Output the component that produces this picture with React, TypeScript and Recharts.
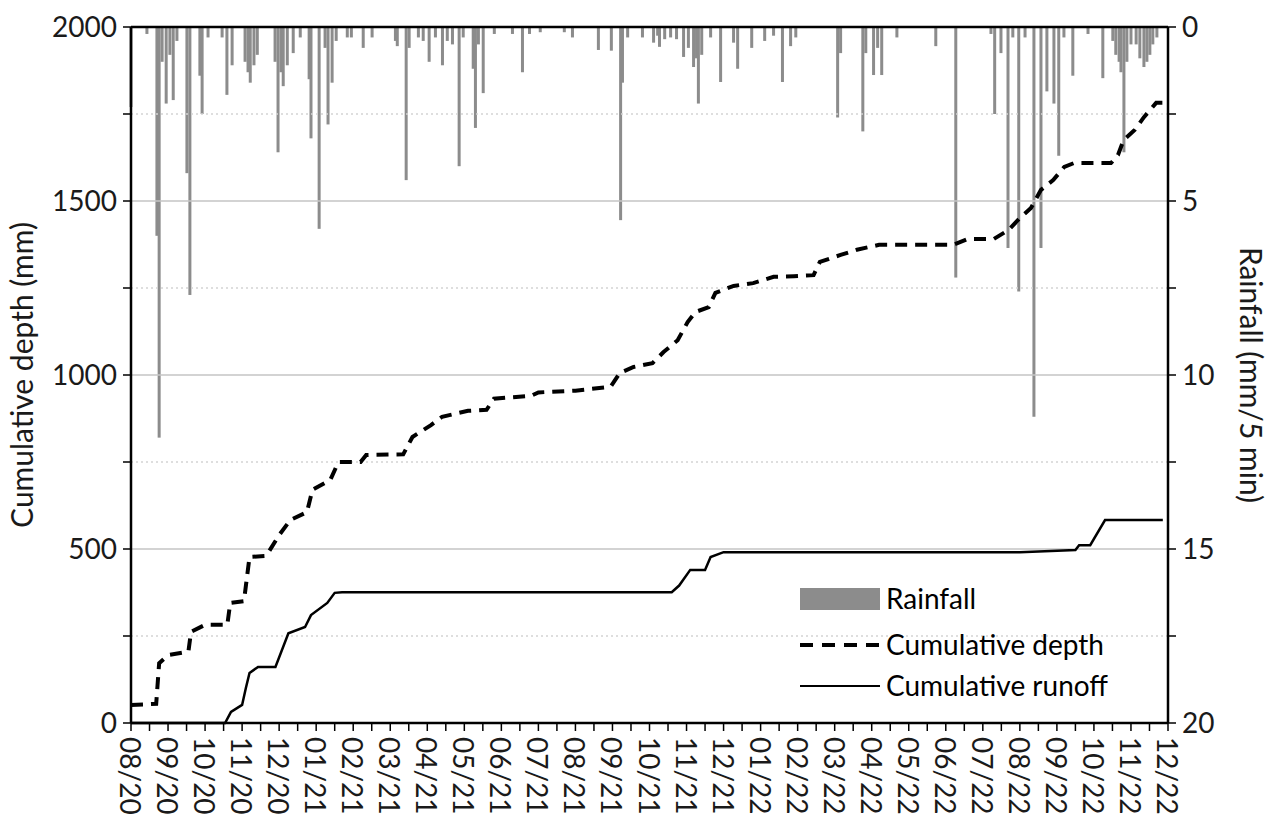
import React from "react";
import {
  Bar,
  ComposedChart,
  Line,
  ReferenceLine,
  XAxis,
  YAxis,
  Label,
} from "recharts";

// months since 08/2020
const monthLabels = [
  "08/20", "09/20", "10/20", "11/20", "12/20",
  "01/21", "02/21", "03/21", "04/21", "05/21", "06/21", "07/21", "08/21", "09/21", "10/21", "11/21", "12/21",
  "01/22", "02/22", "03/22", "04/22", "05/22", "06/22", "07/22", "08/22", "09/22", "10/22", "11/22", "12/22",
];

// rainfall events: time (months since 08/20) and depth (mm / 5 min)
const rainT = [
  0.0, 0.43, 0.7, 0.76, 0.84, 0.95, 1.05, 1.14, 1.24, 1.51, 1.59, 1.86, 1.92, 2.08, 2.46, 2.59, 2.73,
  3.08, 3.16, 3.22, 3.32, 3.41, 3.89, 3.97, 4.05, 4.11, 4.22, 4.38, 4.57, 4.81, 4.86, 5.08, 5.24, 5.32,
  5.43, 5.54, 5.84, 5.95, 6.27, 6.51, 7.14, 7.19, 7.43, 7.51, 7.76, 7.89, 8.05, 8.22, 8.41, 8.54, 8.68,
  8.86, 8.97, 9.24, 9.3, 9.38, 9.51, 9.81, 10.3, 10.57, 10.76, 11.05, 11.7, 11.92, 12.62, 12.97, 13.22,
  13.27, 13.41, 13.81, 14.11, 14.22, 14.27, 14.41, 14.57, 14.73, 14.92, 15.05, 15.19, 15.27, 15.32, 15.41,
  15.65, 15.92, 16.27, 16.38, 16.76, 17.11, 17.35, 17.59, 17.81, 17.95, 19.08, 19.16, 19.76, 19.84, 20.05,
  20.16, 20.27, 20.68, 21.73, 22.27, 23.22, 23.32, 23.49, 23.68, 23.81, 23.97, 24.14, 24.38, 24.57, 24.73,
  24.92, 25.05, 25.19, 25.43, 25.84, 26.24, 26.51, 26.59, 26.68, 26.73, 26.81, 26.89, 27.0, 27.14, 27.24,
  27.35, 27.43, 27.51, 27.59, 27.7,
];
const rainMm = [
  2.3, 0.2, 6.0, 11.8, 1.0, 2.2, 0.8, 2.1, 0.4, 4.2, 7.7, 1.4, 2.5, 0.3, 0.3, 1.95, 1.1,
  1.0, 1.3, 1.6, 1.1, 0.8, 1.0, 3.6, 1.3, 1.7, 1.1, 0.75, 0.3, 1.5, 3.2, 5.8, 0.6, 2.8,
  1.6, 0.4, 0.3, 0.3, 0.6, 0.3, 0.4, 0.55, 4.4, 0.6, 0.3, 0.4, 1.0, 0.3, 1.1, 0.4, 0.5,
  4.0, 0.3, 1.2, 2.9, 0.5, 1.9, 0.2, 0.2, 1.3, 0.2, 0.15, 0.15, 0.3, 0.66, 0.68, 5.55,
  1.6, 0.3, 0.3, 0.45, 0.25, 0.57, 0.35, 0.3, 0.35, 0.86, 0.6, 1.15, 0.9, 2.2, 0.8,
  0.3, 1.58, 0.45, 1.2, 0.6, 0.4, 0.25, 1.58, 0.55, 0.3, 2.6, 0.75, 3.0, 0.75, 1.38,
  0.6, 1.38, 0.3, 0.55, 7.2, 0.2, 2.5, 0.75, 6.35, 0.3, 7.6, 0.3, 11.2, 6.35, 1.85,
  2.2, 3.7, 0.3, 1.4, 0.2, 1.47, 0.4, 0.8, 1.0, 1.3, 3.6, 1.0, 0.5, 0.5, 0.9,
  1.15, 1.0, 0.8, 0.5, 0.3,
];

// cumulative rainfall depth (mm)
const depthT = [
  0, 0.68, 0.76, 1.0, 1.55, 1.62, 2.0, 2.6, 2.68, 3.05, 3.2, 3.65, 4.0, 4.3, 4.75, 4.9, 5.38, 5.6, 6.2,
  6.35, 7.35, 7.6, 8.1, 8.4, 9.1, 9.6, 9.8, 10.8, 11.0, 12.0, 12.95, 13.2, 13.57, 14.08, 14.38, 14.76, 15.03,
  15.24, 15.6, 15.78, 16.27, 16.8, 17.35, 17.9, 18.43, 18.6, 19.16, 19.6, 20.2, 22.2, 22.6, 23.3, 23.7,
  24.0, 24.3, 24.57, 24.9, 25.2, 25.46, 26.46, 26.65, 26.8, 27.1, 27.35, 27.68, 27.86,
];
const depthMm = [
  52, 55, 172, 195, 205, 262, 282, 282, 345, 350, 477, 480, 540, 583, 606, 670, 698, 750, 750,
  770, 772, 822, 856, 880, 897, 900, 932, 940, 950, 955, 966, 1006, 1023, 1034, 1066, 1100, 1152,
  1181, 1195, 1236, 1256, 1264, 1282, 1284, 1287, 1325, 1345, 1360, 1374, 1374, 1391, 1391, 1417,
  1451, 1480, 1532, 1560, 1598, 1609, 1609, 1632, 1675, 1704, 1741, 1782, 1782,
];

// cumulative runoff (mm)
const runoffT = [
  0, 2.54, 2.7, 3.0, 3.1, 3.2, 3.43, 3.9, 4.25, 4.7, 4.86, 5.3, 5.5, 5.7, 14.6, 14.8, 15.1, 15.5,
  15.65, 16.0, 24.0, 25.5, 25.6, 25.9, 26.3, 27.86,
];
const runoffMm = [
  0, 0, 32, 52, 100, 144, 161, 161, 258, 276, 310, 345, 374, 376, 376, 395, 440, 440,
  477, 491, 491, 497, 511, 511, 583, 583,
];

type Row = { t: number; rain?: number; depth?: number; runoff?: number };

const byT = new Map<number, Row>();
const put = (t: number, key: "rain" | "depth" | "runoff", v: number) => {
  const row = byT.get(t) || { t };
  row[key] = v;
  byT.set(t, row);
};
rainT.forEach((t, i) => put(t, "rain", rainMm[i]));
depthT.forEach((t, i) => put(t, "depth", depthMm[i]));
runoffT.forEach((t, i) => put(t, "runoff", runoffMm[i]));
const chartData = Array.from(byT.values()).sort((a, b) => a.t - b.t);

const xTicks = monthLabels.flatMap((_, i) =>
  i < monthLabels.length - 1 ? [i, i + 0.5] : [i]
);
const leftTicks = [0, 250, 500, 750, 1000, 1250, 1500, 1750, 2000];
const rightTicks = [0, 2.5, 5, 7.5, 10, 12.5, 15, 17.5, 20];

const FONT = "Lato, 'Open Sans', sans-serif";

const XTick = (props: any) => {
  const { x, y, payload } = props;
  const v = payload.value;
  if (!Number.isInteger(v)) return null;
  return (
    <text
      x={x}
      y={y}
      transform={`rotate(90, ${x}, ${y})`}
      textAnchor="start"
      dominantBaseline="central"
      fontSize={28}
      fill="#1a1a1a"
      fontFamily={FONT}
    >
      {monthLabels[v]}
    </text>
  );
};

// bars are packed closer than the band size, so draw each one 3px wide
const RainBar = (props: any) => {
  const { x, y, width, height } = props;
  if (!Number.isFinite(height) || height === 0) return null;
  const cx = x + (width || 0) / 2;
  const top = Math.min(y, y + height);
  return (
    <rect x={cx - 1.5} y={top} width={3} height={Math.abs(height)} fill="#8c8c8c" />
  );
};

function LegendBox() {
  return (
    <div
      style={{
        position: "absolute",
        left: 798,
        top: 580,
        fontFamily: FONT,
        fontSize: 28,
        color: "#1a1a1a",
      }}
    >
      <svg width={340} height={125}>
        <rect x={2} y={8} width={80} height={22} fill="#8c8c8c" />
        <text x={88} y={29} fontSize={28}>Rainfall</text>
        <line x1={2} x2={82} y1={65} y2={65} stroke="#000" strokeWidth={4} strokeDasharray="13 9" />
        <text x={88} y={75} fontSize={28}>Cumulative depth</text>
        <line x1={2} x2={82} y1={106} y2={106} stroke="#000" strokeWidth={2} />
        <text x={88} y={116} fontSize={28}>Cumulative runoff</text>
      </svg>
    </div>
  );
}

export default function App() {
  return (
    <div
      style={{
        position: "absolute",
        left: 0,
        top: 0,
        width: 1271,
        height: 827,
        background: "#fff",
        fontFamily: FONT,
      }}
    >
      <ComposedChart
        width={1271}
        height={827}
        data={chartData}
        margin={{ top: 27, right: 0, bottom: 0, left: 0 }}
      >
        {leftTicks
          .filter((v) => v > 0 && v < 2000)
          .map((v) => (
            <ReferenceLine
              key={v}
              yAxisId="left"
              y={v}
              stroke={v % 500 === 0 ? "#c4c4c4" : "#d4d4d4"}
              strokeWidth={1.5}
              strokeDasharray={v % 500 === 0 ? undefined : "2 3"}
            />
          ))}
        <ReferenceLine yAxisId="left" y={2000} stroke="#000" strokeWidth={2.5} />
        <XAxis
          dataKey="t"
          type="number"
          domain={[0, 28]}
          ticks={xTicks}
          interval={0}
          height={104}
          stroke="#000"
          tickSize={8}
          tickMargin={6}
          tick={<XTick />}
          axisLine={{ stroke: "#000", strokeWidth: 2.5 }}
          tickLine={{ stroke: "#000", strokeWidth: 1.5 }}
        />
        <YAxis
          yAxisId="left"
          domain={[0, 2000]}
          ticks={leftTicks}
          interval={0}
          width={131}
          tickSize={8}
          tickMargin={6}
          tickFormatter={(v) => (v % 500 === 0 ? String(v) : "")}
          tick={{ fontSize: 28, fill: "#1a1a1a", fontFamily: FONT }}
          axisLine={{ stroke: "#000", strokeWidth: 2.5 }}
          tickLine={{ stroke: "#000", strokeWidth: 1.5 }}
        >
          <Label
            value="Cumulative depth (mm)"
            angle={-90}
            position="center"
            dx={-43}
            style={{ fontSize: 30, fill: "#1a1a1a", fontFamily: FONT }}
          />
        </YAxis>
        <YAxis
          yAxisId="right"
          orientation="right"
          reversed
          domain={[0, 20]}
          ticks={rightTicks}
          interval={0}
          width={103}
          tickSize={8}
          tickMargin={6}
          tickFormatter={(v) => (v % 5 === 0 ? String(v) : "")}
          tick={{ fontSize: 28, fill: "#1a1a1a", fontFamily: FONT }}
          axisLine={{ stroke: "#000", strokeWidth: 2.5 }}
          tickLine={{ stroke: "#000", strokeWidth: 1.5 }}
        >
          <Label
            value="Rainfall (mm/5 min)"
            angle={90}
            position="center"
            dx={31}
            style={{ fontSize: 30, fill: "#1a1a1a", fontFamily: FONT }}
          />
        </YAxis>
        <Bar
          yAxisId="right"
          dataKey="rain"
          fill="#8c8c8c"
          shape={<RainBar />}
          isAnimationActive={false}
        />
        <Line
          yAxisId="left"
          dataKey="runoff"
          type="linear"
          stroke="#000"
          strokeWidth={2.5}
          dot={false}
          connectNulls
          isAnimationActive={false}
        />
        <Line
          yAxisId="left"
          dataKey="depth"
          type="linear"
          stroke="#000"
          strokeWidth={4}
          strokeDasharray="12 8"
          dot={false}
          connectNulls
          isAnimationActive={false}
        />
      </ComposedChart>
      <LegendBox />
    </div>
  );
}
